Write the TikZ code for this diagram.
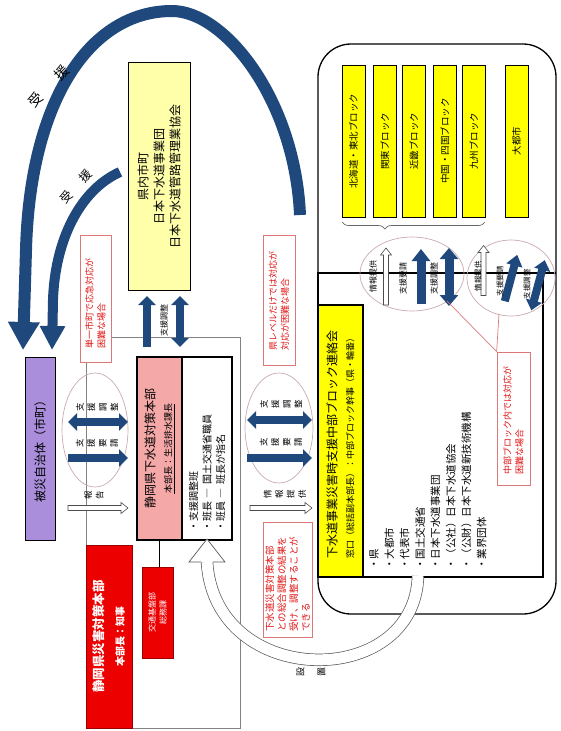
\documentclass[tikz,border=0pt]{standalone}
\usepackage{fontspec}
\setmainfont{Noto Sans CJK JP}
\usetikzlibrary{arrows.meta,shapes.geometric,decorations.pathreplacing}
\definecolor{dblue}{RGB}{31,73,125}
\definecolor{lpurple}{RGB}{170,142,220}
\definecolor{lyellow}{RGB}{255,255,170}
\definecolor{byellow}{RGB}{255,255,0}
\definecolor{lpink}{RGB}{245,168,168}
\definecolor{bred}{RGB}{236,0,0}
\definecolor{nred}{RGB}{225,20,20}
\definecolor{nborder}{RGB}{220,120,120}
\definecolor{ellc}{RGB}{200,170,175}
\definecolor{framegray}{RGB}{130,130,130}
\newcommand\fs[2]{\fontsize{#1}{#2}\selectfont}
\tikzset{pics/harrow/.style={code={%
  \draw[fill=white, draw=black!70, line width=0.6pt] (0,-2.5) -- (#1-7,-2.5) -- (#1-7,-5.5) -- (#1,0) -- (#1-7,5.5) -- (#1-7,2.5) -- (0,2.5) -- cycle;}}}
\begin{document}
\begin{tikzpicture}[x=1pt,y=-1pt,
  box/.style={draw=black, line width=1pt, inner sep=0pt},
  rbox/.style={box, rotate=90},
  blk/.style={rbox, fill=byellow, minimum width=152pt, minimum height=23pt, font=\fs{9.5}{10}},
  note/.style={draw=nborder, line width=0.7pt, fill=white, rotate=90, text=nred, align=left, inner sep=0pt, font=\fs{9}{12}},
  ell/.style={draw=ellc, line width=0.7pt, ellipse, inner sep=0pt},
  hl/.style={rotate=90, align=center, inner sep=0pt, font=\fs{8.5}{11.5}},
  vl/.style={rotate=90, inner sep=0pt, font=\fs{8}{10}},
  barr/.style={dblue, line width=8pt, -{Triangle[length=9pt,width=17pt]}},
  bdarr/.style={dblue, line width=8pt, {Triangle[length=9pt,width=17pt]}-{Triangle[length=9pt,width=17pt]}},
  Barr/.style={dblue, line width=9pt, -{Triangle[length=12pt,width=18pt]}},
  Bdarr/.style={dblue, line width=9pt, {Triangle[length=11pt,width=18pt]}-{Triangle[length=11pt,width=18pt]}}
]
\useasboundingbox (0,0) rectangle (560,731);

% frames
\draw[framegray, line width=0.8pt] (111,337) -- (240,337) -- (240,728) -- (86,728) -- (86,362);
\draw[line width=1.3pt, rounded corners=33pt] (318,44) rectangle (556,614);
\draw[line width=1.3pt] (318,273) rectangle (543,577);
\draw[line width=1.3pt] (543,273) -- (556,273);

% big arcs
\draw[dblue, line width=12pt, -{Triangle[length=28pt,width=30pt]}] (300,215) .. controls (295,100) and (225,11) .. (172,11) .. controls (90,11) and (30,100) .. (26,250) -- (23,350);
\draw[dblue, line width=10pt, -{Triangle[length=24pt,width=24pt]}] (120,172) .. controls (80,190) and (55,240) .. (53,300) -- (52,350);
\node[rotate=45, font=\fs{14}{14}] (ju1) at (36,100) {受};
\node[rotate=45, font=\fs{14}{14}] (en1) at (62,73) {援};
\node[rotate=45, font=\fs{12}{12}] (ju2) at (66,197) {受};
\node[rotate=45, font=\fs{12}{12}] (en2) at (86,176) {援};

% prefecture cities box
\node[rbox, fill=lyellow, minimum width=228pt, minimum height=62pt, align=center, font=\fs{12}{16}] (kennai) at (159,176) {県内市町\\日本下水道事業団\\日本下水道管路管理業協会};
\draw[barr] (147,347) -- (147,296);
\draw[bdarr] (180,347) -- (180,296);
\node[vl, font=\fs{8}{9}] (sc) at (164,320) {支援調整};

% affected municipality
\node[rbox, fill=lpurple, minimum width=183pt, minimum height=30pt, font=\fs{12}{14}] (hisai) at (40,448.5) {被災自治体（市町）};

% note 1
\node[note, minimum width=127pt, minimum height=31pt, text width=100pt] (note1) at (95.5,298.5) {単一市町で応急対応が\\困難な場合};

% ellipse 1
\node[ell, minimum width=66pt, minimum height=114pt] (ell1) at (95,430) {};
\draw[bdarr] (68,422) -- (128,422);
\draw[barr] (68,458) -- (128,458);
\node[hl] (l1a) at (97,407) {支\\援\\調\\整};
\node[hl] (l1b) at (97,443) {支\\援\\要\\請};
\node[hl] (l1c) at (94,495) {報\\告};
\pic at (68,508) {harrow=60};

% Shizuoka sewer HQ
\node[rbox, line width=1.5pt, fill=lpink, minimum width=183pt, minimum height=45pt, align=center, font=\fs{12}{17}] (gesui) at (159.5,448.5) {静岡県下水道対策本部\\{\fs{9}{17}\underline{本部長：生活排水課長}}};
\node[rbox, line width=1.5pt, fill=white, minimum width=183pt, minimum height=50pt, text width=166pt, align=left, font=\fs{10}{13.5}] (shien) at (207,448.5) {・支援調整班\\・班長 ― 国土交通省職員\\・班員 ― 班長が指名};

% red boxes
\node[rbox, fill=bred, draw=red!60!black, text=white, minimum width=183pt, minimum height=46pt, align=center, font=\fs{12.5}{20}\bfseries] (saigai) at (109,636.5) {静岡県災害対策本部\\{\fs{10}{20}本部長：知事}};
\node[rbox, fill=bred, draw=red!60!black, text=white, minimum width=91pt, minimum height=31pt, align=center, font=\fs{8}{11}] (kotsu) at (157.5,612.5) {交通基盤部\\総務課};
\draw[line width=0.8pt] (gesui.west) -- (gesui.west |- kotsu.east);

% ellipse 2
\node[ell, minimum width=68pt, minimum height=110pt] (ell2) at (279,428) {};
\draw[bdarr] (247,420) -- (312,420);
\draw[barr] (247,458) -- (312,458);
\node[hl] (l2a) at (281,404) {支\\援\\調\\整};
\node[hl] (l2b) at (281,442) {支\\援\\要\\請};
\node[hl] (l2c) at (285,494) {情\\報\\提\\供};
\pic at (250,508) {harrow=62};

% notes 2, 3
\node[note, minimum width=130pt, minimum height=32pt, text width=100pt] (note2) at (279,300) {県レベルだけでは対応が\\対応が困難な場合};
\node[note, minimum width=115pt, minimum height=49pt, text width=104pt, font=\fs{9.5}{12}] (note3) at (287.5,579.5) {下水道災害対策本部\\との総合調整の結果を\\受け、調整することが\\できる};

% curved hollow arrow
\draw[draw=black!65, line width=0.7pt, double=white, double distance=11pt] (418,576) .. controls (415,690) and (215,690) .. (207,562);
\draw[draw=black!65, line width=0.7pt, fill=white] (201,562) -- (189,562) -- (207,539) -- (225,562) -- (213,562);
\node[hl, font=\fs{9}{21}] (setchi) at (311,672) {設\\置};

% Chubu block liaison
\node[rbox, line width=1.3pt, fill=byellow, minimum width=272pt, minimum height=45pt, text width=234pt, align=left, font=\fs{12}{17}] (renraku) at (340.5,441) {下水道事業災害時支援中部ブロック連絡会\\{\fs{9}{17}窓口（総括副本部長）：中部ブロック幹事（県・輪番）}};
\node[rotate=90, anchor=west, align=left, inner sep=0pt, font=\fs{10.5}{15.4}] (list) at (428,570) {・県\\・大都市\\・代表市\\・国土交通省\\・日本下水道事業団\\・（公社）日本下水道協会\\・（公財）日本下水道新技術機構\\・業界団体};

% blocks
\node[blk] (b1) at (353.5,141) {北海道・東北ブロック};
\node[blk] (b2) at (385,141) {関東ブロック};
\node[blk] (b3) at (414,141) {近畿ブロック};
\node[blk] (b4) at (445,141) {中国・四国ブロック};
\node[blk] (b5) at (474,141) {九州ブロック};
\node[blk] (b6) at (516.5,141) {大都市};
\draw[black!60, line width=0.7pt, decorate, decoration={brace, mirror, amplitude=7pt, aspect=0.3}] (342,222) -- (485,222);

% ellipses A, B
\node[ell, minimum width=104pt, minimum height=74pt] (ellA) at (412,274) {};
\node[ell, minimum width=88pt, minimum height=76pt] (ellB) at (511,278) {};
\pic[rotate=90] at (386,305) {harrow=57};
\node[vl] (aA1) at (373,276) {情報提供};
\draw[Barr] (421,304) -- (421,249);
\node[vl] (aA2) at (403,278) {支援要請};
\draw[Bdarr] (449,306) -- (449,248);
\node[vl] (aA3) at (434,278) {支援調整};
\begin{scope}[rotate around={-15:(511,278)}]
\pic[rotate=90] at (489,302) {harrow=50};
\draw[Barr, line width=8pt, -{Triangle[length=11pt,width=16pt]}] (511,302) -- (511,254);
\draw[Bdarr, line width=8pt, {Triangle[length=10pt,width=16pt]}-{Triangle[length=10pt,width=16pt]}] (539,304) -- (539,252);
\end{scope}
\node[vl, font=\fs{7.5}{9}] (aB1) at (478,276) {情報提供};
\node[vl, font=\fs{7.5}{9}] (aB2) at (500,281) {支援要請};
\node[vl, font=\fs{7.5}{9}] (aB3) at (527,284) {支援調整};

% note 4
\node[note, minimum width=133pt, minimum height=33pt, text width=112pt] (note4) at (513.5,418.5) {中部ブロック内では対応が\\困難な場合};
\draw[nborder, line width=0.7pt] (447,301) -- (note4.north east);
\draw[nborder, line width=0.7pt] (499,314) -- (note4.north east);
\end{tikzpicture}
\end{document}
